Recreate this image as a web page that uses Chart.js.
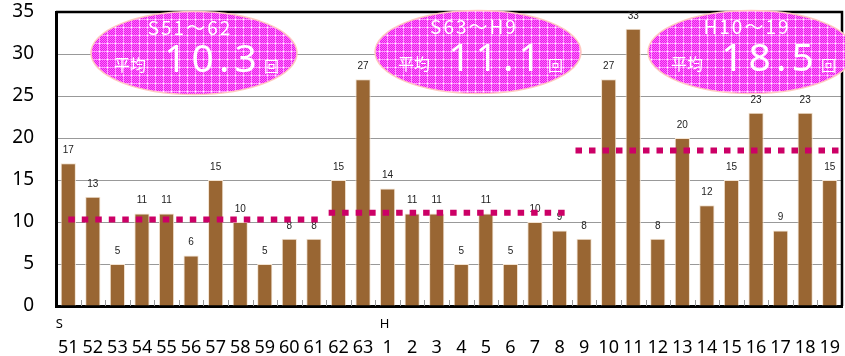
<!DOCTYPE html>
<html>
<head>
<meta charset="utf-8">
<script src="https://cdn.jsdelivr.net/npm/chart.js@4/dist/chart.umd.min.js"></script>
<style>
  html, body { margin: 0; padding: 0; background: #fff; }
  #wrap { width: 845px; height: 356px; }
</style>
</head>
<body>
<div id="wrap"><canvas id="c"></canvas></div>
<script>
// Era markers shown under the first year of each era (Showa / Heisei)
const eraMarks = ['S', '', '', '', '', '', '', '', '', '', '', '', '',
                  'H', '', '', '', '', '', '', '', '', '', '', '', '', '', '', '', '', '', ''];
// Year of the era for each bar
const yearLabels = ['51', '52', '53', '54', '55', '56', '57', '58', '59', '60', '61', '62', '63',
                    '1', '2', '3', '4', '5', '6', '7', '8', '9', '10', '11', '12', '13', '14',
                    '15', '16', '17', '18', '19'];
// Number of occurrences per year
const counts = [17, 13, 5, 11, 11, 6, 15, 10, 5, 8, 8, 15, 27,
                14, 11, 11, 5, 11, 5, 10, 9, 8, 27, 33, 8, 20, 12, 15, 23, 9, 23, 15];

// Period averages and the span (in category units) of each average line
const periodNames = ['S51～62', 'S63～H9', 'H10～19'];
const periodAverages = [10.3, 11.1, 18.5];
const periodLineFrom = [0, 10.6, 20.65];
const periodLineTo = [10.35, 20.35, 31.4];

const yTickMin = 0, yTickMax = 35, yTickStep = 5;

const BAR_COLOR = '#996633';
const AVG_COLOR = '#cc0066';
const FONT = '"Noto Sans", "DejaVu Sans", sans-serif';
const CJK = '"Noto Sans CJK JP", "Noto Sans", sans-serif';
const NO_COLOR = 'rgba(0,0,0,0)';

// Texture for the period badges
function makeTexture() {
  const c = document.createElement('canvas');
  c.width = 8; c.height = 8;
  const g = c.getContext('2d');
  g.fillStyle = '#e61ee6';
  g.fillRect(0, 0, 8, 8);
  g.fillStyle = '#ff66ff';
  for (let y = 0; y < 8; y++) for (let x = 0; x < 8; x++) if ((x + y) % 2 === 0) g.fillRect(x, y, 1, 1);
  g.fillStyle = '#ff9cff';
  g.fillRect(0, 3, 8, 1);
  g.fillRect(3, 0, 1, 8);
  g.fillStyle = '#ffffff';
  g.fillRect(3, 3, 1, 1);
  return c;
}

// Value labels above bars, then the dotted period-average lines
const overlays = {
  id: 'overlays',
  afterDatasetsDraw(chart) {
    const ctx = chart.ctx;
    const xs = chart.scales.x, ys = chart.scales.y;
    const meta = chart.getDatasetMeta(0);
    ctx.save();
    ctx.font = '10px "Liberation Sans", Arial, sans-serif';
    ctx.fillStyle = '#222';
    ctx.textAlign = 'center';
    ctx.textBaseline = 'middle';
    meta.data.forEach((bar, i) => {
      ctx.fillText(String(counts[i]), bar.x, bar.y - 13);
    });

    ctx.strokeStyle = AVG_COLOR;
    ctx.lineWidth = 6;
    ctx.lineCap = 'butt';
    ctx.setLineDash([6.5, 7]);
    periodAverages.forEach((v, i) => {
      const py = ys.getPixelForValue(v);
      ctx.beginPath();
      ctx.moveTo(xs.getPixelForValue(periodLineFrom[i]), py);
      ctx.lineTo(xs.getPixelForValue(periodLineTo[i]), py);
      ctx.stroke();
    });
    ctx.restore();
  }
};

// Frame (top/right), inward category ticks, era markers and period badges
const frameAndBadges = {
  id: 'frameAndBadges',
  beforeDatasetsDraw(chart) {
    const { ctx, chartArea: a } = chart;
    const xs = chart.scales.x;
    ctx.save();
    ctx.strokeStyle = '#999';
    ctx.lineWidth = 1;
    for (let i = 0; i < yearLabels.length - 1; i++) {
      const px = Math.round(xs.getPixelForValue(i + 0.5)) + 0.5;
      ctx.beginPath();
      ctx.moveTo(px, a.bottom);
      ctx.lineTo(px, a.bottom - 6);
      ctx.stroke();
    }
    ctx.strokeStyle = '#000';
    ctx.lineWidth = 2.5;
    ctx.beginPath();
    ctx.moveTo(a.left, a.top);
    ctx.lineTo(a.right, a.top);
    ctx.lineTo(a.right, a.bottom);
    ctx.stroke();

    ctx.fillStyle = '#000';
    ctx.font = '13px ' + FONT;
    ctx.textAlign = 'center';
    ctx.textBaseline = 'middle';
    eraMarks.forEach((m, i) => {
      if (m) ctx.fillText(m, xs.getPixelForValue(i) - (i === 0 ? 9 : 3), a.bottom + 18);
    });
    ctx.restore();
  },
  afterDraw(chart) {
    const { ctx } = chart;
    const pattern = ctx.createPattern(makeTexture(), 'repeat');
    const centers = [[194, 53], [478, 52], [751, 52]];
    ctx.save();
    centers.forEach(([cx, cy], i) => {
      ctx.beginPath();
      ctx.ellipse(cx, cy, 103, 41.5, 0, 0, Math.PI * 2);
      ctx.fillStyle = pattern;
      ctx.fill();
      ctx.strokeStyle = '#ffc8c0';
      ctx.lineWidth = 1.5;
      ctx.stroke();

      ctx.fillStyle = '#fff';
      ctx.textBaseline = 'alphabetic';
      ctx.font = '19px ' + CJK;
      ctx.letterSpacing = '2px';
      ctx.textAlign = 'center';
      ctx.fillText(periodNames[i], cx - 4, cy - 18);
      ctx.letterSpacing = '0px';
      ctx.font = '16px ' + CJK;
      ctx.textAlign = 'left';
      ctx.fillText('平均', cx - 80, cy + 18);
      ctx.font = '39px ' + FONT;
      ctx.letterSpacing = '5px';
      ctx.textAlign = 'center';
      ctx.fillText(periodAverages[i].toFixed(1), cx + 19, cy + 19);
      ctx.letterSpacing = '0px';
      ctx.font = '15px ' + CJK;
      ctx.textAlign = 'left';
      ctx.fillText('回', cx + 70, cy + 19);
    });
    ctx.restore();
  }
};

new Chart(document.getElementById('c'), {
  type: 'bar',
  data: {
    labels: yearLabels,
    datasets: [
      {
        label: '回数',
        data: counts,
        backgroundColor: BAR_COLOR,
        borderColor: '#f2e2d0',
        borderWidth: 1,
        barPercentage: 0.62,
        categoryPercentage: 1.0
      }
    ]
  },
  options: {
    responsive: true,
    maintainAspectRatio: false,
    animation: false,
    events: [],
    layout: { padding: { top: 12, right: 3, left: 0, bottom: 0 } },
    plugins: { legend: { display: false }, tooltip: { enabled: false } },
    scales: {
      x: {
        offset: true,
        grid: { display: true, drawOnChartArea: false, drawTicks: true, tickLength: 31, tickColor: NO_COLOR, color: NO_COLOR },
        border: { display: true, color: '#000', width: 3 },
        ticks: { font: { family: FONT, size: 18 }, color: '#000', padding: 0, autoSkip: false, maxRotation: 0 },
        afterFit(s) { s.height = 50; }
      },
      y: {
        min: yTickMin,
        max: yTickMax,
        ticks: { stepSize: yTickStep, font: { family: FONT, size: 19 }, color: '#000', padding: 0 },
        grid: { color: '#999', lineWidth: 1, drawTicks: true, tickLength: 22, tickColor: NO_COLOR },
        border: { display: true, color: '#000', width: 3 },
        afterFit(s) { s.width = 56; }
      }
    }
  },
  plugins: [overlays, frameAndBadges]
});
</script>
</body>
</html>
